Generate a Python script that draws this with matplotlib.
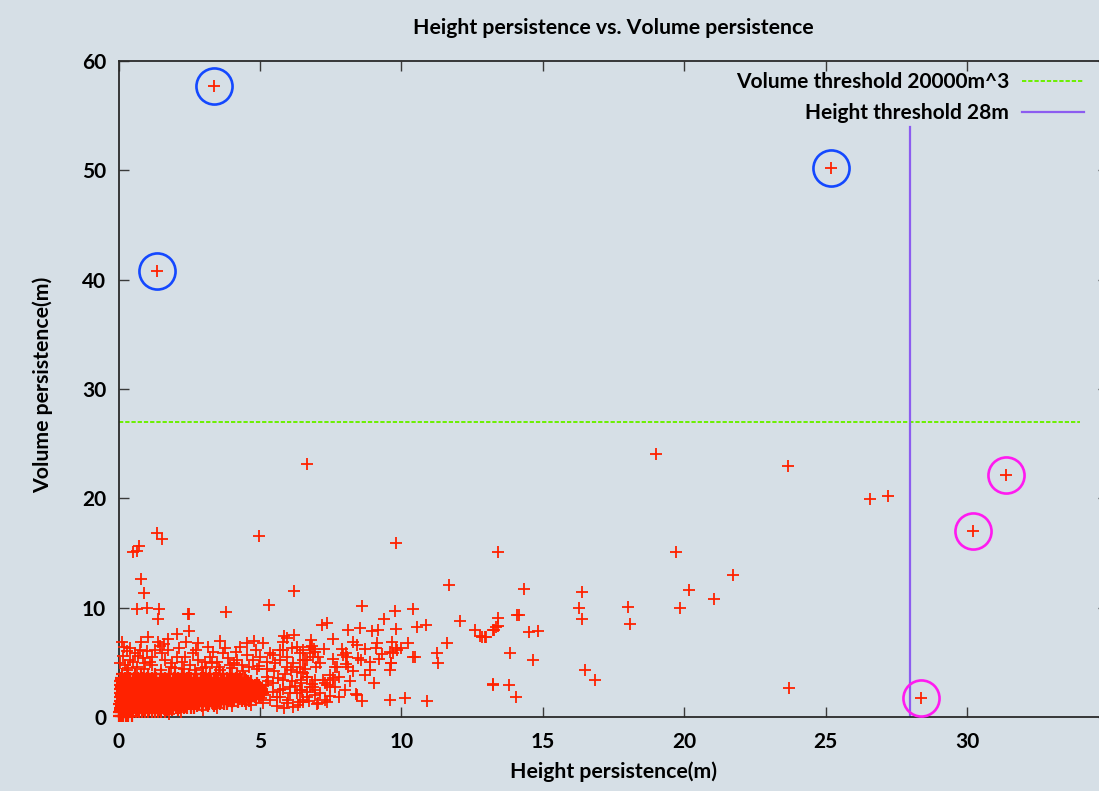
import matplotlib
matplotlib.use('Agg')
import matplotlib.pyplot as plt
from matplotlib.lines import Line2D

# ---------------- data ----------------
title = "Height persistence vs. Volume persistence"
xlabel = "Height persistence(m)"
ylabel = "Volume persistence(m)"
legend_labels = ["Volume threshold 20000m^3", "Height threshold 28m"]
volume_threshold = 27.0
height_threshold = 28.0
height_line_top = 54.0
x_ticks = [0, 5, 10, 15, 20, 25, 30]
y_ticks = [0, 10, 20, 30, 40, 50, 60]

# dense core, rows of points (y value, x values)
core_y = [0.1, 0.45, 0.63, 0.8, 0.98, 1.15, 1.33, 1.5, 1.68, 1.85, 2.03, 2.2, 2.38, 2.55,
          2.73, 2.9, 3.08, 3.25, 3.43, 3.6, 3.95]
core_x = [
    [0.0, 0.08, 0.17, 0.27, 0.35, 0.46],
    [0.0, 0.09, 0.21, 0.3, 0.41, 0.52, 0.62, 0.71, 0.84, 0.94, 1.05, 1.17, 1.28, 1.39, 1.52, 1.63],
    [0.06, 0.27, 0.47, 0.66, 0.88, 1.07, 1.29, 1.48, 1.7, 1.9, 2.12],
    [0.04, 0.13, 0.24, 0.36, 0.45, 0.57, 0.69, 0.78, 0.9, 1.01, 1.13, 1.24, 1.35, 1.48, 1.58, 1.7,
     1.82, 1.93, 2.05, 2.18, 2.3, 2.42, 2.55, 2.68],
    [0.09, 0.3, 0.5, 0.71, 0.9, 1.12, 1.31, 1.53, 1.72, 1.94, 2.14, 2.35, 2.55, 2.77, 2.96, 3.18, 3.37],
    [0.03, 0.14, 0.25, 0.37, 0.49, 0.6, 0.71, 0.84, 0.95, 1.06, 1.18, 1.31, 1.41, 1.53, 1.66, 1.77,
     1.88, 2.01, 2.12, 2.24, 2.37, 2.48, 2.6, 2.73, 2.84, 2.96, 3.09, 3.2, 3.33, 3.45, 3.58, 3.72, 3.85],
    [0.1, 0.31, 0.52, 0.72, 0.93, 1.14, 1.34, 1.55, 1.76, 1.96, 2.17, 2.38, 2.58, 2.79, 3.0, 3.2,
     3.41, 3.62, 3.82, 4.03, 4.24],
    [0.06, 0.17, 0.29, 0.4, 0.53, 0.64, 0.75, 0.88, 0.99, 1.1, 1.22, 1.35, 1.46, 1.58, 1.71, 1.82,
     1.94, 2.07, 2.18, 2.3, 2.43, 2.54, 2.66, 2.79, 2.9, 3.02, 3.15, 3.26, 3.38, 3.51, 3.62, 3.74,
     3.87, 3.98, 4.1, 4.23, 4.35, 4.48, 4.62],
    [0.11, 0.32, 0.53, 0.73, 0.94, 1.15, 1.35, 1.56, 1.77, 1.97, 2.18, 2.39, 2.59, 2.8, 3.01, 3.21,
     3.42, 3.63, 3.83, 4.04, 4.25, 4.45, 4.66, 4.86],
    [0.05, 0.16, 0.28, 0.39, 0.51, 0.63, 0.74, 0.86, 0.98, 1.09, 1.21, 1.33, 1.45, 1.57, 1.69, 1.81,
     1.93, 2.05, 2.17, 2.29, 2.41, 2.53, 2.65, 2.77, 2.89, 3.01, 3.13, 3.25, 3.37, 3.49, 3.61, 3.73,
     3.85, 3.97, 4.09, 4.21, 4.33, 4.45, 4.57, 4.7, 4.83, 4.97],
    [0.1, 0.3, 0.51, 0.72, 0.92, 1.13, 1.34, 1.54, 1.75, 1.96, 2.16, 2.37, 2.58, 2.78, 2.99, 3.2,
     3.4, 3.61, 3.82, 4.02, 4.23, 4.44, 4.64, 4.85, 5.05],
    [0.07, 0.18, 0.3, 0.42, 0.53, 0.65, 0.77, 0.88, 1.0, 1.12, 1.24, 1.36, 1.48, 1.6, 1.72, 1.84,
     1.96, 2.08, 2.2, 2.32, 2.44, 2.56, 2.68, 2.8, 2.92, 3.04, 3.16, 3.28, 3.4, 3.52, 3.64, 3.76,
     3.88, 4.0, 4.12, 4.24, 4.36, 4.48, 4.6, 4.72, 4.85, 4.98, 5.1],
    [0.12, 0.33, 0.53, 0.74, 0.95, 1.15, 1.36, 1.57, 1.77, 1.98, 2.19, 2.39, 2.6, 2.81, 3.01, 3.22,
     3.43, 3.63, 3.84, 4.05, 4.25, 4.46, 4.67, 4.87, 5.08],
    [0.04, 0.15, 0.27, 0.38, 0.5, 0.62, 0.73, 0.85, 0.97, 1.08, 1.2, 1.32, 1.44, 1.56, 1.68, 1.8,
     1.92, 2.04, 2.16, 2.28, 2.4, 2.52, 2.64, 2.76, 2.88, 3.0, 3.12, 3.24, 3.36, 3.48, 3.6, 3.72,
     3.84, 3.96, 4.08, 4.2, 4.32, 4.44, 4.56, 4.68, 4.8, 4.93, 5.06],
    [0.1, 0.31, 0.52, 0.72, 0.93, 1.14, 1.34, 1.55, 1.76, 1.96, 2.17, 2.38, 2.58, 2.79, 3.0, 3.2,
     3.41, 3.62, 3.82, 4.03, 4.24, 4.44, 4.65, 4.86, 5.02],
    [0.06, 0.17, 0.29, 0.41, 0.52, 0.64, 0.76, 0.87, 0.99, 1.11, 1.23, 1.35, 1.47, 1.59, 1.71, 1.83,
     1.95, 2.07, 2.19, 2.31, 2.43, 2.55, 2.67, 2.79, 2.91, 3.03, 3.15, 3.27, 3.39, 3.51, 3.63, 3.75,
     3.87, 3.99, 4.11, 4.23, 4.35, 4.47, 4.59, 4.71, 4.84, 4.96],
    [0.11, 0.32, 0.53, 0.73, 0.94, 1.15, 1.35, 1.56, 1.77, 1.97, 2.18, 2.39, 2.59, 2.8, 3.01, 3.21,
     3.42, 3.63, 3.83, 4.04, 4.25, 4.45, 4.66, 4.88],
    [0.05, 0.16, 0.28, 0.4, 0.51, 0.63, 0.75, 0.86, 0.98, 1.1, 1.22, 1.34, 1.46, 1.58, 1.7, 1.82,
     1.94, 2.06, 2.18, 2.3, 2.42, 2.54, 2.66, 2.78, 2.9, 3.02, 3.14, 3.26, 3.38, 3.5, 3.62, 3.74,
     3.86, 3.98, 4.1, 4.22, 4.34, 4.46, 4.58, 4.7],
    [0.1, 0.31, 0.52, 0.72, 0.93, 1.14, 1.34, 1.55, 1.76, 1.96, 2.17, 2.38, 2.58, 2.79, 3.0, 3.2,
     3.41, 3.62, 3.82, 4.03, 4.24, 4.5],
    [0.08, 0.24, 0.39, 0.55, 0.7, 0.86, 1.02, 1.17, 1.33, 1.49, 1.64, 1.8, 1.96, 2.11, 2.27, 2.43,
     2.58, 2.74, 2.9, 3.05, 3.21, 3.37, 3.52, 3.68, 3.84, 3.99, 4.15, 4.31, 4.46],
    [0.12, 0.35, 0.58, 0.8, 1.05, 1.3, 1.52, 1.77, 2.0, 2.26, 2.5, 2.73, 2.98, 3.22, 3.45, 3.7, 3.95, 4.2],
]

# scattered points (height persistence, volume persistence)
pts_x = [3.37, 1.36, 25.18, 6.66, 19.0, 23.67, 26.57, 27.2, 31.37, 30.21, 28.38, 23.7,
         13.42, 19.72, 21.73, 14.32, 20.17, 16.4, 21.06, 16.28, 18.0, 19.86, 14.1, 14.17, 16.4, 18.09,
         13.42, 13.42, 13.26, 14.52, 14.84, 12.84, 13.0, 13.85, 14.64, 16.5, 16.85, 13.25, 13.82, 14.07,
         1.37, 1.53, 4.95, 9.8, 0.52, 0.66, 0.73, 0.8, 0.91, 6.2, 11.7, 0.66, 1.0, 1.44, 1.41, 2.47,
         3.79, 5.33, 8.62, 9.77, 10.4, 9.39, 12.07, 12.6, 12.77, 7.36, 7.18, 8.12, 8.53, 8.95, 9.16,
         9.8, 10.54, 10.87, 11.6, 11.27, 11.3, 10.42, 10.5, 9.59, 9.71, 9.65, 9.59, 10.0, 9.8, 10.24,
         13.24, 9.04, 8.39, 9.59, 10.12, 10.91,
         12.97, 13.24, 13.36, 7.59, 8.42, 9.15, 9.1, 9.66, 9.83, 7.94, 8.06, 8.08, 8.47, 8.57, 8.89,
         9.2, 7.59, 7.71, 8.12, 8.06, 9.62, 7.47, 7.59, 7.3, 7.67, 8.42, 7.02, 7.3, 7.47, 6.88, 6.94,
         6.65, 6.53, 7.06, 7.12, 7.0, 7.24, 7.36, 6.77, 6.59, 6.53, 6.47, 6.83, 6.91, 7.27,
         2.49, 2.48, 2.06, 1.76, 1.03, 0.11, 1.41, 2.39, 2.82, 3.59, 4.53, 4.79, 5.1, 5.86, 6.21, 5.82,
         5.94, 5.35, 5.71, 6.12, 6.41, 6.53, 6.77, 6.94, 6.88,
         5.53, 5.94, 6.3, 6.65, 6.94, 6.77, 6.41, 6.06, 5.71, 6.41, 6.65, 7.12, 7.47, 7.59, 7.06, 7.36,
         0.41, 0.58, 0.76, 0.41, 0.23, 0.88, 1.11, 0.64,
         1.29, 1.53, 1.76, 2.06, 2.23, 2.64, 2.82, 2.53,
         3.23, 3.47, 3.7, 3.88, 4.18, 4.35, 4.53, 4.76, 5.0, 5.24, 5.47, 5.71, 5.94, 6.18, 6.41, 6.65,
         5.82, 6.3, 6.53,
         5.24, 5.47, 5.82, 6.06, 6.3, 6.53, 5.59, 5.94, 6.18, 6.47, 6.65, 5.35, 5.71,
         6.82, 7.65,
         0.3, 0.9, 1.5, 2.0, 2.7, 3.1, 3.6, 4.0, 4.4, 4.9, 1.2, 1.9, 3.3, 4.1,
         3.0, 3.5, 4.0, 4.5, 2.2, 1.8, 4.7, 5.1,
         0.15, 0.3, 0.5, 0.7, 0.95, 1.2, 1.45, 1.65, 1.85, 0.35, 0.05, 0.2, 1.0, 1.6, 0.8,
         2.15, 2.35, 2.75, 2.95, 3.15, 3.35, 3.55, 3.75, 3.95, 4.15, 4.3, 4.6, 4.85, 4.95, 3.05, 2.3,
         5.1, 5.2, 5.3, 5.45, 5.5, 5.65, 5.8, 5.9, 6.0, 6.15, 6.25, 6.35, 6.5, 6.6, 6.75, 6.85, 6.95,
         5.6, 5.85, 6.1, 5.25, 5.05,
         7.8, 8.0, 8.2, 8.3, 8.7, 8.9, 7.9, 8.3, 8.7, 9.3, 7.8, 8.6]
pts_y = [57.7, 40.8, 50.2, 23.1, 24.06, 22.96, 19.9, 20.2, 22.17, 17.05, 1.71, 2.68,
         15.07, 15.1, 12.96, 11.74, 11.65, 11.47, 10.77, 10.0, 10.09, 10.0, 9.33, 9.33, 8.94, 8.48,
         9.03, 8.33, 7.96, 7.8, 7.9, 7.35, 7.35, 5.83, 5.24, 4.27, 3.36, 2.93, 2.93, 1.83,
         16.8, 16.29, 16.6, 15.9, 15.1, 15.2, 15.6, 12.6, 11.35, 11.5, 12.1, 9.88, 9.94, 9.85, 8.97, 9.4,
         9.58, 10.25, 10.19, 9.7, 9.85, 8.94, 8.81, 7.96, 7.41, 8.63, 8.42, 7.96, 8.11, 7.9, 7.96,
         8.02, 8.26, 8.42, 6.74, 5.83, 4.91, 5.46, 5.46, 5.98, 5.83, 4.91, 4.3, 6.3, 6.3, 6.74,
         2.99, 3.14, 2.07, 1.56, 1.71, 1.46,
         7.35, 7.96, 8.26, 7.14, 6.59, 6.74, 6.29, 6.89, 6.13, 5.67, 5.83, 5.52, 5.37, 5.21, 5.06,
         5.31, 5.28, 4.55, 4.6, 4.85, 4.97, 3.84, 3.54, 3.08, 2.72, 2.01, 1.19, 1.56, 1.92, 2.77, 2.47,
         2.31, 1.4, 5.52, 4.91, 4.6, 3.39, 2.93, 5.83, 5.21, 4.0, 3.39, 6.5, 6.19, 6.19,
         9.42, 7.9, 7.6, 7.1, 7.35, 6.9, 6.9, 6.9, 6.8, 6.98, 6.8, 6.98, 6.8, 7.41, 7.5, 6.9,
         7.2, 5.83, 6.13, 6.29, 5.83, 5.21, 6.43, 5.98, 5.52,
         4.91, 4.6, 4.15, 3.69, 3.39, 2.77, 2.47, 2.16, 1.86, 1.4, 1.86, 2.16, 2.77, 3.39, 1.25, 1.4,
         6.29, 5.83, 6.13, 5.21, 4.76, 5.37, 5.06, 4.6,
         6.13, 5.83, 6.13, 5.52, 5.06, 5.83, 5.21, 4.76,
         5.52, 5.06, 5.83, 5.37, 5.21, 4.76, 5.67, 5.21, 5.52, 5.06, 5.67, 5.21, 5.52, 4.91, 4.6, 5.21,
         6.13, 6.43, 6.13,
         3.69, 3.08, 3.39, 2.77, 2.16, 1.56, 1.86, 1.25, 0.94, 3.08, 3.69, 1.56, 2.47,
         7.0, 4.6,
         4.3, 4.4, 4.3, 4.5, 4.3, 4.6, 4.3, 4.5, 4.2, 4.4, 4.8, 4.9, 4.9, 4.9,
         0.6, 0.8, 1.0, 1.2, 0.45, 0.3, 1.1, 1.3,
         5.6, 6.0, 5.0, 5.6, 4.9, 5.5, 6.5, 5.2, 4.6, 4.5, 4.9, 6.4, 6.0, 6.7, 6.9,
         6.3, 5.5, 6.1, 4.5, 6.4, 5.9, 4.6, 6.3, 4.8, 5.9, 6.4, 4.6, 6.1, 4.7, 5.0, 4.4,
         2.0, 2.9, 3.3, 2.3, 4.2, 3.6, 2.6, 3.9, 1.6, 3.3, 2.8, 1.1, 2.5, 4.4, 1.5, 3.0, 2.0,
         1.0, 0.8, 4.3, 4.4, 1.7,
         3.7, 2.5, 3.3, 4.2, 3.8, 4.3, 6.2, 6.9, 6.2, 5.8, 1.8, 1.5]

# highlighted outliers
blue_x = [3.37, 1.36, 25.18]
blue_y = [57.7, 40.8, 50.2]
magenta_x = [31.37, 30.21, 28.38]
magenta_y = [22.17, 17.05, 1.71]

# ---------------- drawing ----------------
bg = '#d6dfe6'
fig = plt.figure(figsize=(10.99, 7.91), dpi=100)
fig.patch.set_facecolor(bg)
ax = fig.add_axes([0.10783, 0.09355, 0.9007, 0.8293])
ax.set_facecolor(bg)

core_pts_x = []
core_pts_y = []
for yv, row in zip(core_y, core_x):
    core_pts_x.extend(row)
    core_pts_y.extend([yv] * len(row))

red = '#ff2200'
ax.plot(core_pts_x, core_pts_y, linestyle='none', marker='+', markersize=8.6,
        markeredgewidth=1.6, color=red, clip_on=False, zorder=3)
ax.plot(pts_x, pts_y, linestyle='none', marker='+', markersize=8.6,
        markeredgewidth=1.3, color=red, clip_on=False, zorder=3)

green = '#6cf000'
purple = '#8c5cf0'
ax.plot([0, 34.0], [volume_threshold, volume_threshold], color=green,
        lw=1.4, dashes=(2.2, 1.0), zorder=2)
ax.plot([height_threshold, height_threshold], [0, height_line_top], color=purple,
        lw=1.6, zorder=2)

ax.plot(blue_x, blue_y, linestyle='none', marker='o', markersize=26,
        markerfacecolor='none', markeredgecolor='#1448ff', markeredgewidth=1.9, zorder=4)
ax.plot(magenta_x, magenta_y, linestyle='none', marker='o', markersize=26,
        markerfacecolor='none', markeredgecolor='#ff1af0', markeredgewidth=1.9, zorder=4)

ax.set_xlim(0, 35)
ax.set_ylim(0, 60)
ax.set_xticks(x_ticks)
ax.set_yticks(y_ticks)

tick_font = dict(family='Lato', weight='bold', size=15)
ax.set_xticklabels([str(t) for t in x_ticks], fontdict=tick_font)
ax.set_yticklabels([str(t) for t in y_ticks], fontdict=tick_font)
ax.tick_params(axis='both', direction='in', length=7, width=1.0, color='#3a3a3a',
               top=True, right=True, labelcolor='black')
ax.tick_params(axis='x', pad=11)
ax.tick_params(axis='y', pad=9)
for s in ax.spines.values():
    s.set_color('#2a2a2a')
    s.set_linewidth(1.3)

label_font = dict(family='Lato', weight='bold', size=15.3)
fig.text(613.5 / 1099, 1 - 28 / 791, title, ha='center', va='center', fontdict=label_font)
fig.text(613.5 / 1099, 1 - 772 / 791, xlabel, ha='center', va='center', fontdict=label_font)
fig.text(43 / 1099, 1 - 385 / 791, ylabel, ha='center', va='center', rotation=90,
         fontdict=label_font)

handles = [Line2D([], [], color=green, lw=1.4, dashes=(2.2, 1.0)),
           Line2D([], [], color=purple, lw=1.6)]
leg = fig.legend(handles, legend_labels, loc='upper right',
                 bbox_to_anchor=(1084 / 1099, 1 - 72 / 791), frameon=False,
                 markerfirst=False, prop=dict(family='Lato', weight='bold', size=15),
                 handlelength=3.0, handletextpad=0.6, labelspacing=0.52,
                 borderpad=0, borderaxespad=0)

fig.savefig('out.png', dpi=100, facecolor=bg)
